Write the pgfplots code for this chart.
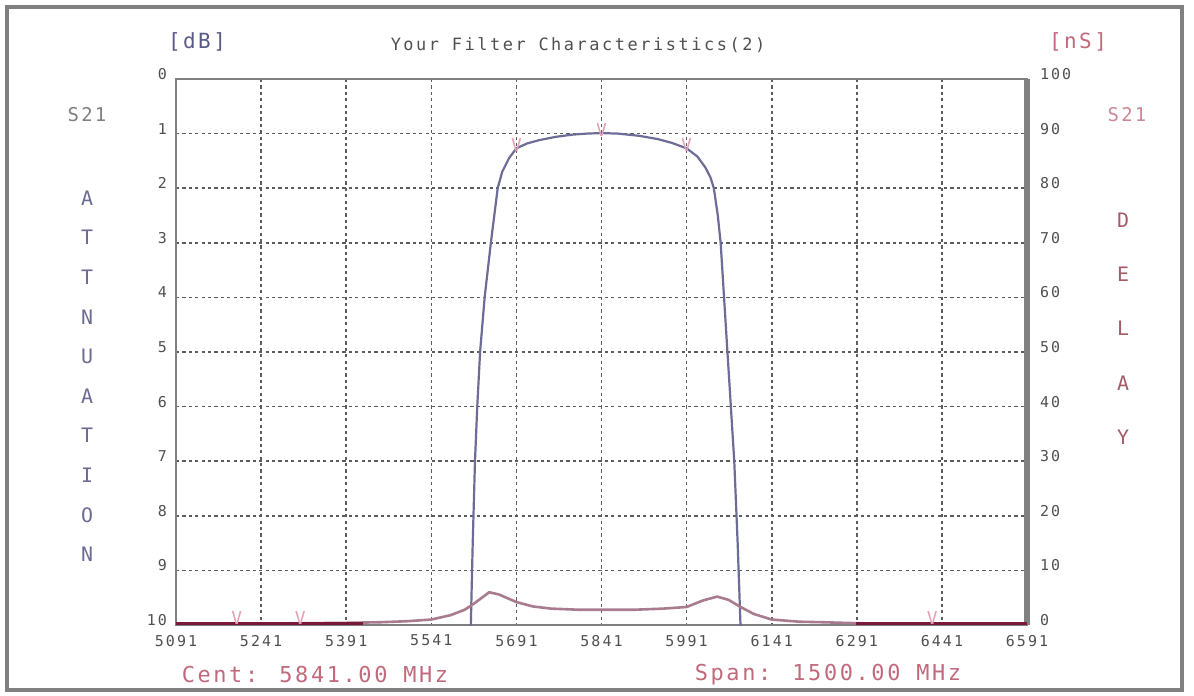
\documentclass[border=0pt]{standalone}
\usepackage{fontspec}
\usepackage{pgfplots}
\pgfplotsset{compat=1.18}
\newfontfamily\pixA[LetterSpace=14]{DejaVu Sans Mono}
\newfontfamily\pixB[LetterSpace=15]{DejaVu Sans Mono}
\newfontfamily\pixC[LetterSpace=12]{DejaVu Sans Mono}
\definecolor{s21}{HTML}{6C6C96}
\definecolor{dly}{HTML}{A87C8E}
\definecolor{dlydark}{HTML}{7A1838}
\definecolor{vmark}{HTML}{E4A2B4}
\definecolor{redtxt}{HTML}{C06A7C}
\definecolor{bluetxt}{HTML}{5A5A88}
\definecolor{ticktxt}{HTML}{505050}
\definecolor{gridc}{HTML}{5C5C5C}
\begin{document}
\begin{tikzpicture}
\useasboundingbox (0,0) rectangle (597bp,348bp);
\fill[white] (0,0) rectangle (597bp,348bp);
\draw[gray, line width=1.6bp] (3.5bp,3bp) rectangle (591bp,344.5bp);
% texts
\node[font=\pixC\fontsize{10.5}{11}\selectfont, text=bluetxt] at (98.5bp,327bp) {[dB]};
\node[font=\pixB\fontsize{8.5}{9}\selectfont, text=ticktxt] at (289bp,325.5bp) {Your Filter Characteristics(2)};
\node[font=\pixC\fontsize{10.5}{11}\selectfont, text=redtxt] at (539bp,327bp) {[nS]};
\node[font=\pixC\fontsize{9.5}{10}\selectfont, text=gray] at (43.5bp,290.5bp) {S21};
\node[font=\pixC\fontsize{9.5}{10}\selectfont, text=redtxt!80] at (563.5bp,290.5bp) {S21};
\foreach \L [count=\i from 0] in {A,T,T,N,U,A,T,I,O,N}{
  \node[font=\pixC\fontsize{10}{10}\selectfont, text=bluetxt!90] at (43.5bp,{(696-198-39.6*\i)*0.5bp}) {\L};
}
\foreach \L [count=\i from 0] in {D,E,L,A,Y}{
  \node[font=\pixC\fontsize{10}{10}\selectfont, text=redtxt!85!black] at (561.5bp,{(696-220-54.3*\i)*0.5bp}) {\L};
}
\node[font=\pixC\fontsize{11}{12}\selectfont, text=redtxt] at (157.5bp,10.5bp) {Cent: 5841.00 MHz};
\node[font=\pixC\fontsize{11}{12}\selectfont, text=redtxt] at (414bp,10.5bp) {Span: 1500.00 MHz};

\begin{axis}[
  at={(88bp,35.5bp)}, anchor=south west, scale only axis,
  width=425.5bp, height=273bp,
  xmin=5091, xmax=6591, ymin=0, ymax=10, y dir=reverse,
  xtick={5091,5241,5391,5541,5691,5841,5991,6141,6291,6441,6591},
  ytick={0,1,...,10},
  grid=major,
  major grid style={dash pattern=on 1.6bp off 1.6bp, line width=0.8bp, color=gridc},
  major tick length=0pt,
  axis line style={draw=gray, line width=0.9bp},
  tick label style={font=\pixA\fontsize{7.5}{8}\selectfont, text=ticktxt},
  xticklabel style={yshift=-1.5bp},
  yticklabel style={yshift=2.5bp, xshift=-1bp},
  /pgf/number format/1000 sep={},
  /pgf/number format/assume math mode=true,
  clip=true,
]
\addplot[s21, line width=1.1bp] coordinates {
(5610,10.3) (5614,8.5) (5618,7.0) (5622,6.0) (5627,5.0) (5635,4.0) (5646,3.0)
(5652,2.5) (5658,2.0) (5666,1.7) (5678,1.45) (5691,1.27) (5710,1.18) (5731,1.12)
(5760,1.06) (5789,1.02) (5815,1.0) (5841,0.99) (5870,1.0) (5907,1.04) (5940,1.1)
(5965,1.17) (5991,1.27) (6010,1.42) (6024,1.62) (6033,1.8) (6039,2.0) (6046,2.5)
(6051,3.0) (6057,4.0) (6063,5.0) (6069,6.0) (6075,7.0) (6081,8.5) (6087,10.3)
};
\addplot[draw=none, mark=none, nodes near coords={V},
  every node near coord/.style={anchor=south, inner sep=0pt, yshift=-2bp,
  font=\pixC\fontsize{9}{9}\selectfont, text=vmark}]
  coordinates {(5691,1.27) (5841,0.99) (5991,1.27)};
\end{axis}

\begin{axis}[
  at={(88bp,35.5bp)}, anchor=south west, scale only axis,
  width=425.5bp, height=273bp,
  xmin=5091, xmax=6591, ymin=0, ymax=100,
  axis x line=none, axis y line*=right,
  ytick={0,10,...,100},
  major tick length=0pt,
  axis line style={draw=gray, line width=2.6bp},
  tick label style={font=\pixA\fontsize{7.5}{8}\selectfont, text=ticktxt},
  yticklabel style={yshift=2.5bp, xshift=3bp},
  /pgf/number format/assume math mode=true,
  clip=true,
]
\addplot[dly, line width=1.3bp] coordinates {
(5091,0.3) (5200,0.3) (5300,0.3) (5391,0.4) (5450,0.5) (5500,0.7) (5541,1.0)
(5575,1.8) (5600,2.8) (5620,4.2) (5643,6.0) (5660,5.6) (5691,4.2) (5720,3.4)
(5752,3.0) (5800,2.8) (5841,2.8) (5900,2.8) (5950,3.0) (5991,3.3) (6020,4.5)
(6045,5.2) (6065,4.6) (6086,3.3) (6110,2.0) (6141,1.0) (6190,0.6) (6233,0.5)
(6300,0.3) (6400,0.3) (6591,0.3)
};
\addplot[dlydark, line width=1.8bp] coordinates {(5091,0.3) (5420,0.3)};
\addplot[dlydark, line width=1.8bp] coordinates {(6290,0.3) (6591,0.3)};
\addplot[draw=none, mark=none, nodes near coords={V},
  every node near coord/.style={anchor=south, inner sep=0pt, yshift=-1bp,
  font=\pixC\fontsize{9}{9}\selectfont, text=vmark}]
  coordinates {(5198,0.3) (5310,0.3) (6424,0.3)};
\end{axis}
\end{tikzpicture}
\end{document}
